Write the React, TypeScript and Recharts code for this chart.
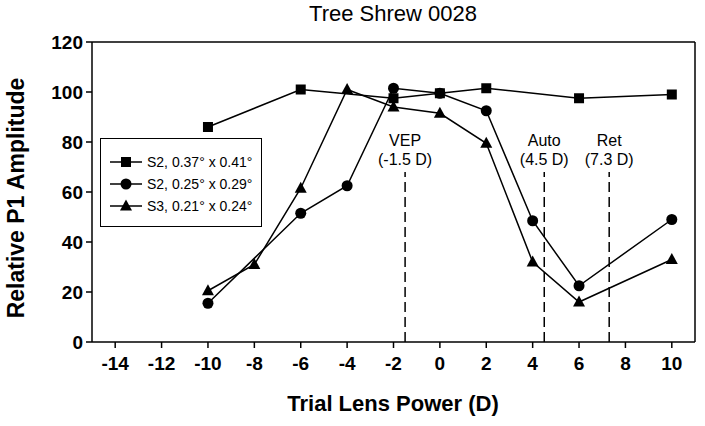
import { LineChart, Line, XAxis, YAxis, ReferenceLine, Legend, Customized } from "recharts"

const FONT = "Arial, 'Liberation Sans', Helvetica, sans-serif"

// S2, 0.37° x 0.41°
const lensS2Large = [-10, -6, -2, 0, 2, 6, 10]
const ampS2Large = [86, 101, 97.5, 99.5, 101.5, 97.5, 99]
// S2, 0.25° x 0.29°
const lensS2Small = [-10, -6, -4, -2, 0, 2, 4, 6, 10]
const ampS2Small = [15.5, 51.5, 62.5, 101.5, 99.5, 92.5, 48.5, 22.5, 49]
// S3, 0.21° x 0.24°
const lensS3 = [-10, -8, -6, -4, -2, 0, 2, 4, 6, 10]
const ampS3 = [20.5, 31, 61.5, 101, 94, 91.5, 79.5, 32, 16, 33]

const seriesNames = ["S2, 0.37° x 0.41°", "S2, 0.25° x 0.29°", "S3, 0.21° x 0.24°"]
const seriesShapes = ["square", "circle", "triangle"]

const xTicks = [-14, -12, -10, -8, -6, -4, -2, 0, 2, 4, 6, 8, 10]
const yTicks = [0, 20, 40, 60, 80, 100, 120]

const refNames = ["VEP", "Auto", "Ret"]
const refLens = [-1.5, 4.5, 7.3]
const refTop = 68

const zip = (xs: number[], ys: number[]) => xs.map((x, i) => ({ x, y: ys[i] }))
const seriesData = [zip(lensS2Large, ampS2Large), zip(lensS2Small, ampS2Small), zip(lensS3, ampS3)]

function Marker({ cx, cy, shape }: { cx: number; cy: number; shape: string }) {
  if (cx == null || cy == null) return null
  if (shape === "square") return <rect x={cx - 5} y={cy - 5} width={10} height={10} fill="#000" />
  if (shape === "circle") return <circle cx={cx} cy={cy} r={5.5} fill="#000" />
  return <polygon points={`${cx},${cy - 6.5} ${cx + 6},${cy + 4.5} ${cx - 6},${cy + 4.5}`} fill="#000" />
}

function LegendBox() {
  return (
    <div style={{ border: "1.5px solid #000", background: "#fff", width: 160, padding: "12px 0 9px 0", fontFamily: FONT }}>
      {seriesNames.map((name, i) => (
        <div key={name} style={{ display: "flex", alignItems: "center", height: 22 }}>
          <svg width={46} height={22}>
            <line x1={9} x2={41} y1={11} y2={11} stroke="#000" strokeWidth={1.5} />
            <Marker cx={25} cy={11} shape={seriesShapes[i]} />
          </svg>
          <span style={{ fontSize: 14, color: "#000", whiteSpace: "nowrap" }}>{name}</span>
        </div>
      ))}
    </div>
  )
}

function RefLabel({ viewBox, name, value }: any) {
  const x = viewBox.x
  const y = viewBox.y
  return (
    <g fontFamily={FONT} fontSize={16} fill="#000" textAnchor="middle">
      <text x={x} y={y - 26}>{name}</text>
      <text x={x} y={y - 7}>{`(${value} D)`}</text>
    </g>
  )
}

function Titles() {
  return (
    <g fontFamily={FONT} fill="#000" textAnchor="middle">
      <text x={393} y={21} fontSize={22}>Tree Shrew 0028</text>
      <text x={393} y={411} fontSize={22} fontWeight="bold">Trial Lens Power (D)</text>
      <text x={24} y={198} fontSize={23} fontWeight="bold" transform="rotate(-90 24 198)">Relative P1 Amplitude</text>
    </g>
  )
}

const tickStyle = { fill: "#000", fontSize: 19, fontWeight: "bold", fontFamily: FONT }

export default function App() {
  return (
    <div style={{ position: "absolute", left: 0, top: 0, background: "#fff" }}>
      <LineChart width={705} height={426} margin={{ top: 42, right: 10, bottom: 54, left: 0 }}>
        <XAxis
          type="number"
          dataKey="x"
          domain={[-15, 11]}
          ticks={xTicks}
          height={30}
          allowDuplicatedCategory={false}
          tickSize={6}
          tickMargin={9}
          tick={tickStyle}
          stroke="#000"
          strokeWidth={1.5}
        />
        <YAxis
          type="number"
          dataKey="y"
          domain={[0, 120]}
          ticks={yTicks}
          width={92}
          tickSize={6}
          tickMargin={3}
          tick={tickStyle}
          stroke="#000"
          strokeWidth={1.5}
        />
        <ReferenceLine y={120} stroke="#000" strokeWidth={1.5} />
        <ReferenceLine x={11} stroke="#000" strokeWidth={1.5} />
        {refLens.map((v, i) => (
          <ReferenceLine
            key={refNames[i]}
            segment={[{ x: v, y: 0 }, { x: v, y: refTop }]}
            stroke="#000"
            strokeWidth={1.5}
            strokeDasharray="10 5"
            label={(p: any) => <RefLabel viewBox={p.viewBox} name={refNames[i]} value={v} />}
          />
        ))}
        {seriesData.map((d, i) => (
          <Line
            key={seriesNames[i]}
            data={d}
            dataKey="y"
            name={seriesNames[i]}
            stroke="#000"
            strokeWidth={1.5}
            isAnimationActive={false}
            dot={(p: any) => <Marker key={`${i}-${p.index}`} cx={p.cx} cy={p.cy} shape={seriesShapes[i]} />}
            activeDot={false}
          />
        ))}
        <Legend
          layout="vertical"
          align="center"
          verticalAlign="middle"
          content={() => <LegendBox />}
          wrapperStyle={{ left: 100, top: 138, width: 163 }}
        />
        <Customized component={Titles} />
      </LineChart>
    </div>
  )
}
